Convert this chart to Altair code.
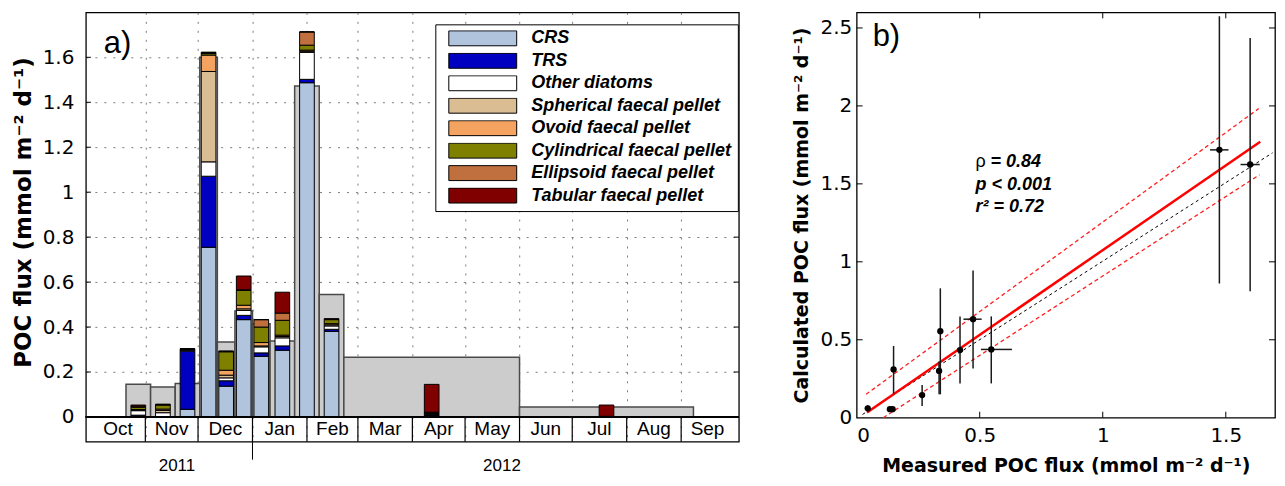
import altair as alt
import pandas as pd

FONT = "Liberation Sans"
AXFONT = "DejaVu Sans"

# ---------------- panel a) data ----------------
origin_date = "2011-10-01"
period_start = ["2011-10-21", "2011-11-04", "2011-11-18", "2011-12-02", "2011-12-12", "2011-12-22",
                "2012-01-01", "2012-01-11", "2012-01-25", "2012-02-08", "2012-02-22", "2012-06-01"]
period_end = ["2011-11-04", "2011-11-18", "2011-12-02", "2011-12-12", "2011-12-22", "2012-01-01",
              "2012-01-11", "2012-01-25", "2012-02-08", "2012-02-22", "2012-06-01", "2012-09-08"]
measured_flux = [0.146, 0.133, 0.149, 1.600, 0.334, 0.471, 0.415, 0.338, 1.472, 0.545, 0.266, 0.044]

components = ["CRS", "TRS", "Other diatoms", "Spherical faecal pellet", "Ovoid faecal pellet",
              "Cylindrical faecal pellet", "Ellipsoid faecal pellet", "Tabular faecal pellet"]
component_colors = ["#B0C4DE", "#0000C0", "#FFFFFF", "#DBBD94", "#F4A460", "#808000", "#C0703F", "#800000"]

crs = [0.004, 0.001, 0.034, 0.755, 0.137, 0.433, 0.270, 0.297, 1.487, 0.381, 0.006, 0.001]
trs = [0.004, 0.001, 0.259, 0.316, 0.024, 0.019, 0.015, 0.019, 0.015, 0.009, 0.003, 0.000]
other_diatoms = [0.020, 0.017, 0.004, 0.064, 0.013, 0.022, 0.027, 0.036, 0.120, 0.015, 0.003, 0.000]
spherical = [0.003, 0.010, 0.002, 0.402, 0.012, 0.007, 0.004, 0.006, 0.005, 0.005, 0.002, 0.000]
ovoid = [0.002, 0.006, 0.001, 0.073, 0.022, 0.016, 0.015, 0.006, 0.005, 0.005, 0.002, 0.000]
cylindrical = [0.010, 0.018, 0.002, 0.007, 0.082, 0.066, 0.069, 0.066, 0.022, 0.018, 0.003, 0.001]
ellipsoid = [0.005, 0.002, 0.001, 0.004, 0.002, 0.003, 0.033, 0.032, 0.059, 0.002, 0.002, 0.001]
tabular = [0.005, 0.002, 0.001, 0.002, 0.001, 0.061, 0.000, 0.093, 0.000, 0.002, 0.124, 0.050]

month_labels = ["Oct", "Nov", "Dec", "Jan", "Feb", "Mar", "Apr", "May", "Jun", "Jul", "Aug", "Sep"]
month_starts = ["2011-10-01", "2011-11-01", "2011-12-01", "2012-01-01", "2012-02-01", "2012-03-01",
                "2012-04-01", "2012-05-01", "2012-06-01", "2012-07-01", "2012-08-01", "2012-09-01",
                "2012-10-01"]
year_labels = ["2011", "2012"]
year_label_dates = ["2011-11-19", "2012-05-22"]
year_break = ["2012-01-01"]
flux_ticks = [0, 0.2, 0.4, 0.6, 0.8, 1.0, 1.2, 1.4, 1.6]

# ---------------- panel b) data ----------------
meas = [0.045, 0.135, 0.146, 0.150, 0.266, 0.335, 0.340, 0.420, 0.473, 0.547, 1.474, 1.599]
calc = [0.060, 0.055, 0.055, 0.310, 0.145, 0.300, 0.555, 0.434, 0.632, 0.438, 1.718, 1.624]
calc_lo = [0.040, 0.040, 0.040, 0.155, 0.075, 0.150, 0.150, 0.220, 0.316, 0.220, 0.861, 0.812]
calc_hi = [0.080, 0.070, 0.070, 0.460, 0.210, 0.360, 0.830, 0.650, 0.944, 0.650, 2.575, 2.436]
meas_lo = [0.040, 0.130, 0.140, 0.145, 0.260, 0.330, 0.335, 0.415, 0.434, 0.505, 1.436, 1.560]
meas_hi = [0.050, 0.140, 0.150, 0.155, 0.270, 0.340, 0.345, 0.425, 0.508, 0.631, 1.511, 1.638]

fit_x = [0.042, 1.640]
fit_y = [0.034, 1.770]
ci_up_x = [0.038, 1.634]
ci_up_y = [0.150, 1.983]
ci_lo_x = [0.108, 1.637]
ci_lo_y = [0.000, 1.558]
one_x = [0.024, 1.690]
one_y = [0.021, 1.699]
x_ticks_b = [0, 0.5, 1.0, 1.5]
y_ticks_b = [0, 0.5, 1.0, 1.5, 2.0, 2.5]

# ---------------- tables ----------------
t0 = pd.Timestamp(origin_date)


def day(s):
    return float((pd.Timestamp(s) - t0).days)


periods = pd.DataFrame({
    "start": [day(s) for s in period_start],
    "end": [day(e) for e in period_end],
    "flux": measured_flux,
})
periods["base"] = 0.0
periods["center"] = (periods["start"] + periods["end"]) / 2

comp_values = [crs, trs, other_diatoms, spherical, ovoid, cylindrical, ellipsoid, tabular]
rows = []
for i in range(len(period_start)):
    cum = 0.0
    for j, name in enumerate(components):
        v = comp_values[j][i]
        rows.append({"center": periods["center"][i], "component": name, "order": j,
                     "lo": cum, "hi": cum + v})
        cum += v
stack = pd.DataFrame(rows)

months_df = pd.DataFrame({
    "month": month_labels,
    "mid": [(day(month_starts[k]) + day(month_starts[k + 1])) / 2 for k in range(12)],
})
bounds = [day(m) for m in month_starts[1:-1]]
bounds_df = pd.DataFrame({"day": bounds})
years_df = pd.DataFrame({"year": year_labels, "day": [day(d) for d in year_label_dates]})
break_df = pd.DataFrame({"day": [day(d) for d in year_break]})
fticks_df = pd.DataFrame({"v": flux_ticks[1:]})

W_A, H_A = 654, 430
xs = alt.Scale(domain=[0, day(month_starts[-1])], nice=False, zero=False)
ys = alt.Scale(domain=[-0.11, 1.8], nice=False, zero=False)

GRID = dict(gridDash=[2, 7], gridColor="#7a7a7a", gridWidth=1)
LAB = dict(labelFont=AXFONT, labelFontSize=20, labelColor="black")


def tit(size):
    return dict(titleFont=AXFONT, titleFontSize=size, titleFontWeight="bold", titleColor="black")


gray = alt.Chart(periods).mark_rect(fill="#CCCCCC", stroke="#4A4A4A", strokeWidth=1.5).encode(
    x=alt.X("start:Q", scale=xs, axis=alt.Axis(values=bounds, grid=True, ticks=False, labels=False,
                                               domain=False, title=None, **GRID)),
    x2="end:Q",
    y=alt.Y("flux:Q", scale=ys, axis=alt.Axis(values=flux_ticks, format=".1~f", grid=True, ticks=False,
                                              domain=False, labelPadding=12,
                                              title="POC flux (mmol m⁻² d⁻¹)",
                                              titlePadding=7, titleY=200, **LAB, **tit(23), **GRID)),
    y2="base:Q",
)

legend = alt.Legend(
    orient="none", legendX=350, legendY=12, title=None,
    fillColor="white", strokeColor="black", padding=6,
    symbolType="M-1,-0.22H1V0.22H-1Z", symbolSize=4624,
    symbolStrokeColor="black", symbolStrokeWidth=1, symbolOpacity=1, symbolOffset=7,
    labelFont=FONT, labelFontSize=18, labelFontStyle="italic", labelFontWeight="bold", labelColor="black",
    labelOffset=14, labelLimit=500, clipHeight=16, rowPadding=4.5,
)

bars = alt.Chart(stack).mark_bar(width=14.7, stroke="black", strokeWidth=1, opacity=1).encode(
    x="center:Q",
    y="lo:Q",
    y2="hi:Q",
    color=alt.Color("component:N", scale=alt.Scale(domain=components, range=component_colors),
                    legend=legend),
    order=alt.Order("order:Q"),
)

zero_line = alt.Chart(periods).mark_rule(color="black", strokeWidth=1.5).encode(y=alt.datum(0))

separators = alt.Chart(bounds_df).mark_rule(color="black", strokeWidth=1.2).encode(
    x="day:Q", y=alt.datum(0), y2=alt.value(H_A))

month_text = alt.Chart(months_df).mark_text(fontSize=19, baseline="middle", color="black").encode(
    x="mid:Q", y=alt.datum(-0.055), text="month:N")

year_tick = alt.Chart(break_df).mark_rule(color="black", strokeWidth=1).encode(
    x="day:Q", y=alt.value(H_A), y2=alt.value(H_A + 18))

year_text = alt.Chart(years_df).mark_text(fontSize=17, baseline="middle", color="black").encode(
    x="day:Q", y=alt.value(H_A + 24), text="year:N")

ytick_l = alt.Chart(fticks_df).mark_rule(color="black", strokeWidth=1).encode(
    y="v:Q", x=alt.value(0), x2=alt.value(5))
ytick_r = alt.Chart(fticks_df).mark_rule(color="black", strokeWidth=1).encode(
    y="v:Q", x=alt.value(W_A - 5), x2=alt.value(W_A))

label_a = alt.Chart(pd.DataFrame({"t": ["a)"]})).mark_text(
    fontSize=31, align="left", baseline="middle", color="black").encode(
    x=alt.value(18), y=alt.value(32), text="t:N")

left = alt.layer(gray, bars, zero_line, separators, month_text, year_tick, year_text,
                 ytick_l, ytick_r, label_a).properties(width=W_A, height=H_A)

# ---------------- panel b) ----------------
W_B, H_B = 419, 406
xb = alt.Scale(domain=[0, 1.7], nice=False, zero=False)
yb = alt.Scale(domain=[0, 2.6], nice=False, zero=False)

pts = pd.DataFrame({"meas": meas, "calc": calc, "ylo": calc_lo, "yhi": calc_hi,
                    "xlo": meas_lo, "xhi": meas_hi})

verr = alt.Chart(pts).mark_rule(color="#1a1a1a", strokeWidth=1.5).encode(
    x=alt.X("meas:Q", scale=xb, axis=alt.Axis(values=x_ticks_b, format=".1~f", ticks=False, domain=False,
                                              grid=False, labelPadding=8,
                                              title="Measured POC flux (mmol m⁻² d⁻¹)",
                                              titlePadding=11, **LAB, **tit(19))),
    y=alt.Y("ylo:Q", scale=yb, axis=alt.Axis(values=y_ticks_b, format=".1~f", ticks=False, domain=False,
                                             grid=False, labelPadding=5,
                                             title="Calculated POC flux (mmol m⁻² d⁻¹)",
                                             titlePadding=8, **LAB, **tit(19))),
    y2="yhi:Q",
)
herr = alt.Chart(pts).mark_rule(color="#1a1a1a", strokeWidth=1.5).encode(
    y="calc:Q", x="xlo:Q", x2="xhi:Q")
dots = alt.Chart(pts).mark_circle(size=40, color="black", opacity=1).encode(x="meas:Q", y="calc:Q")

one_line = alt.Chart(pd.DataFrame({"x": one_x, "y": one_y})).mark_line(
    color="black", strokeWidth=1, strokeDash=[3, 3]).encode(x="x:Q", y="y:Q")
ci_up = alt.Chart(pd.DataFrame({"x": ci_up_x, "y": ci_up_y})).mark_line(
    color="#ff2020", strokeWidth=1.3, strokeDash=[4, 3]).encode(x="x:Q", y="y:Q")
ci_lo = alt.Chart(pd.DataFrame({"x": ci_lo_x, "y": ci_lo_y})).mark_line(
    color="#ff2020", strokeWidth=1.3, strokeDash=[4, 3]).encode(x="x:Q", y="y:Q")
fit = alt.Chart(pd.DataFrame({"x": fit_x, "y": fit_y})).mark_line(
    color="#ff0000", strokeWidth=2.5).encode(x="x:Q", y="y:Q")

xt_df = pd.DataFrame({"v": x_ticks_b[1:]})
yt_df = pd.DataFrame({"v": y_ticks_b[1:]})
tb = alt.Chart(xt_df).mark_rule(color="black", strokeWidth=1).encode(
    x="v:Q", y=alt.value(H_B - 6), y2=alt.value(H_B))
tt = alt.Chart(xt_df).mark_rule(color="black", strokeWidth=1).encode(
    x="v:Q", y=alt.value(0), y2=alt.value(6))
tl = alt.Chart(yt_df).mark_rule(color="black", strokeWidth=1).encode(
    y="v:Q", x=alt.value(0), x2=alt.value(6))
tr = alt.Chart(yt_df).mark_rule(color="black", strokeWidth=1).encode(
    y="v:Q", x=alt.value(W_B - 6), x2=alt.value(W_B))

rho = alt.Chart(pd.DataFrame({"t": ["ρ"]})).mark_text(
    fontSize=18, align="left", baseline="middle", color="black").encode(
    x=alt.value(119), y=alt.value(150), text="t:N")
stats = alt.Chart(pd.DataFrame({"t": ["= 0.84", "p < 0.001", "r² = 0.72"],
                                "px": [134, 119, 119], "py": [150, 172.5, 195]})).mark_text(
    fontSize=18, align="left", baseline="middle", fontStyle="italic", fontWeight="bold",
    color="black").encode(
    x=alt.X("px:Q", scale=None), y=alt.Y("py:Q", scale=None), text="t:N")

label_b = alt.Chart(pd.DataFrame({"t": ["b)"]})).mark_text(
    fontSize=31, align="left", baseline="middle", color="black").encode(
    x=alt.value(16), y=alt.value(25), text="t:N")

right = alt.layer(one_line, ci_up, ci_lo, fit, verr, herr, dots, tb, tt, tl, tr,
                  rho, stats, label_b).properties(width=W_B, height=H_B)

chart = alt.hconcat(left, right, spacing=51).properties(
    padding={"left": 3, "top": 2, "right": 0, "bottom": 0}
).configure(font=FONT).configure_view(stroke="black", strokeWidth=1.3)

chart.save("out.html", embed_options={"renderer": "svg", "actions": False})
